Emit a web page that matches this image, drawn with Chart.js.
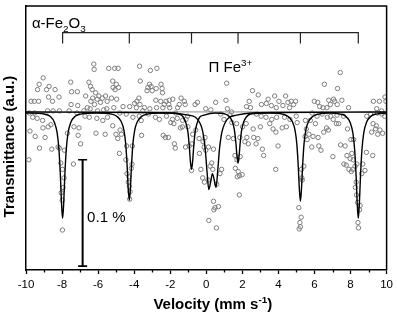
<!DOCTYPE html>
<html>
<head>
<meta charset="utf-8">
<script src="https://cdn.jsdelivr.net/npm/chart.js@4.4.0/dist/chart.umd.min.js"></script>
<style>
  html, body { margin: 0; padding: 0; background: #fff; }
  #wrap { width: 397px; height: 316px; }
</style>
</head>
<body>
<div id="wrap"><canvas id="spectrum" width="397" height="316"></canvas></div>
<script>
// measured spectrum: [velocity mm/s, transmission change %]
const spectrum = [
  [-6.24,0.045],[-6.22,0.040],[-5.41,0.041],[-5.08,0.041],[-9.05,0.032],[-7.52,0.028],[-6.51,0.028],[-9.27,0.026],
  [-8.72,0.024],[-9.36,0.021],[-8.86,0.021],[-8.39,0.021],[-6.42,0.024],[-6.33,0.021],[-7.47,0.019],[-7.15,0.019],
  [-5.19,0.029],[-5.17,0.023],[-5.06,0.021],[-6.14,0.018],[-5.96,0.015],[-5.77,0.013],[-5.59,0.015],[-6.69,0.015],
  [-6.30,0.013],[-6.05,0.012],[-8.75,0.014],[-8.17,0.014],[-9.72,0.010],[-9.54,0.010],[-9.30,0.010],[-8.53,0.010],
  [-7.50,0.007],[-7.13,0.006],[-5.87,0.009],[-5.50,0.010],[-5.26,0.013],[-6.40,0.010],[-6.20,0.007],[-5.13,0.004],
  [-8.80,0.001],[-8.50,0.001],[-8.15,0.001],[-7.61,0.001],[-7.17,-0.001],[-6.79,0.001],[-6.60,0.004],[-6.44,0.003],
  [-6.03,0.001],[-5.69,0.002],[-5.52,0.003],[-9.82,-0.001],[-9.52,-0.001],[-9.63,-0.005],[-9.38,-0.006],[-9.08,-0.008],
  [-6.07,-0.006],[-5.48,-0.005],[-5.74,-0.008],[-6.73,-0.004],[-6.49,-0.005],[-5.19,-0.013],[-9.06,-0.015],[-8.77,-0.014],
  [-8.62,-0.012],[-7.34,-0.014],[-7.06,-0.015],[-7.11,-0.022],[-7.70,-0.020],[-6.12,-0.020],[-5.61,-0.021],[-9.78,-0.018],
  [-9.49,-0.023],[-8.94,-0.024],[-6.97,-0.030],[-9.25,-0.034],[-8.57,-0.035],[-8.22,-0.033],[-9.84,-0.045],[-8.07,-0.048],
  [-7.37,-0.049],[-7.98,-0.054],[-7.89,-0.062],[-7.94,-0.071],[-8.05,-0.076],[-7.99,-0.083],[-7.98,-0.111],[-7.87,-0.036],
  [-8.15,-0.034],
  [-3.70,0.043],[-3.10,0.039],[-2.74,0.041],[-3.66,0.029],[-3.15,0.026],[-3.24,0.023],[-3.06,0.024],[-3.29,0.020],
  [-3.00,0.020],[-2.78,0.022],[-2.51,0.026],[-2.45,0.022],[-2.43,0.018],[-3.74,0.013],[-3.85,0.010],[-3.98,0.008],
  [-3.68,0.007],[-2.80,0.011],[-2.53,0.010],[-2.23,0.010],[-2.05,0.011],[-1.86,0.012],[-2.08,0.007],[-2.33,0.007],
  [-1.40,0.013],[-1.22,0.010],[-0.62,0.007],[-1.17,0.007],[-4.89,0.041],[-4.99,0.026],[-4.87,0.023],[-4.97,0.012],
  [-4.62,0.005],[-4.25,0.005],[-3.88,0.004],[-3.43,0.004],[-3.13,0.003],[-2.76,0.004],[-2.41,0.004],[-2.03,0.004],
  [-1.59,0.004],[-1.50,0.007],[-4.80,-0.001],[-4.44,-0.002],[-4.07,-0.005],[-3.72,-0.004],[-3.52,0.001],[-3.22,-0.002],
  [-2.82,-0.005],[-2.60,-0.007],[-2.21,-0.004],[-1.88,-0.007],[-1.61,-0.006],[-1.31,-0.008],[-1.13,-0.007],[-1.04,-0.004],
  [-3.61,-0.008],[-1.44,-0.015],[-1.02,-0.014],[-4.78,-0.017],[-5.01,-0.021],[-4.71,-0.021],[-4.91,-0.025],[-3.59,-0.022],
  [-2.39,-0.022],[-2.27,-0.024],[-2.10,-0.024],[-1.77,-0.030],[-1.72,-0.034],[-1.15,-0.033],[-0.95,-0.032],[-0.80,-0.030],
  [-0.76,-0.021],[-0.58,-0.017],[-0.40,-0.025],[-0.18,-0.028],[-0.07,-0.024],[-0.12,-0.033],[-0.03,-0.036],[-0.38,-0.039],
  [-4.42,-0.032],[-4.10,-0.032],[-4.82,-0.039],[-4.46,-0.045],[-4.12,-0.049],[-4.16,-0.053],[-4.40,-0.058],[-4.29,-0.061],
  [-0.82,-0.055],[-0.30,-0.054],[-0.20,-0.062],[-0.10,-0.066],[-4.25,-0.082],[-4.27,-0.070],[-4.23,-0.075],[-4.33,-0.066],
  [-1.70,-0.001],[-1.97,-0.010],[-1.80,-0.011],[-1.33,-0.014],
  [1.13,0.027],[2.56,0.020],[2.88,0.016],[1.09,0.011],[2.38,0.010],[2.23,0.005],[2.45,0.004],[3.43,0.012],
  [3.33,0.008],[3.79,0.015],[4.03,0.010],[4.40,0.015],[4.53,0.009],[4.71,0.010],[4.95,0.010],[3.06,0.007],
  [3.61,0.006],[3.88,0.004],[4.25,0.006],[4.62,0.004],[4.84,0.007],[1.17,0.003],[1.40,0.000],[1.31,-0.003],
  [2.78,-0.002],[3.04,-0.004],[3.31,-0.005],[3.63,-0.007],[3.90,-0.005],[4.34,-0.005],[4.64,-0.007],[4.99,-0.004],
  [0.98,-0.007],[1.42,-0.010],[1.68,-0.011],[2.21,-0.011],[2.01,-0.014],[2.60,-0.016],[3.00,-0.014],[3.52,-0.011],
  [3.70,-0.016],[3.86,-0.019],[4.21,-0.015],[4.44,-0.014],[1.22,-0.024],[1.50,-0.025],[1.86,-0.024],[2.25,-0.024],
  [2.63,-0.024],[2.86,-0.025],[2.14,-0.028],[2.33,-0.030],[2.76,-0.030],[3.11,-0.035],[3.18,-0.041],[3.98,-0.032],
  [0.12,-0.033],[0.40,-0.035],[1.59,-0.041],[1.88,-0.042],[1.70,-0.045],[0.30,-0.048],[0.21,-0.051],[0.36,-0.054],
  [0.85,-0.054],[0.76,-0.058],[1.61,-0.053],[1.77,-0.056],[1.84,-0.060],[1.99,-0.059],[1.72,-0.061],[3.85,-0.054],
  [0.58,-0.068],[0.10,-0.064],[1.83,-0.078],[0.40,-0.084],[0.48,-0.090],[0.67,-0.089],[0.42,-0.092],[0.14,-0.102],
  [0.56,-0.109],[-0.49,0.009],[-0.03,0.003],[0.52,0.009],[0.25,0.002],[0.80,-0.002],
  [7.43,0.037],[6.55,0.026],[7.28,0.022],[5.99,0.010],[6.18,0.009],[6.79,0.011],[7.06,0.012],[7.12,0.010],
  [7.52,0.011],[7.26,0.007],[6.88,0.007],[6.69,0.004],[6.47,0.004],[6.29,0.005],[7.89,0.004],[9.27,0.010],
  [9.60,0.010],[9.91,0.014],[9.96,0.010],[9.45,0.003],[9.72,0.001],[9.49,-0.001],[9.74,-0.002],[9.89,-0.004],
  [9.12,-0.002],[8.90,-0.004],[5.87,-0.001],[6.14,-0.004],[6.42,-0.002],[6.71,-0.005],[6.90,-0.004],[7.04,-0.007],
  [7.25,-0.003],[7.61,-0.004],[5.04,-0.010],[5.50,-0.008],[5.77,-0.008],[6.05,-0.011],[5.55,-0.016],[5.69,-0.021],
  [5.92,-0.023],[6.20,-0.024],[5.48,-0.023],[5.59,-0.026],[6.51,-0.019],[6.77,-0.017],[6.67,-0.015],[7.21,-0.011],
  [7.34,-0.011],[7.83,-0.016],[8.02,-0.026],[8.17,-0.026],[9.25,-0.011],[9.43,-0.013],[9.39,-0.016],[9.17,-0.019],
  [9.51,-0.021],[9.78,-0.020],[9.63,-0.017],[5.85,-0.033],[6.24,-0.032],[6.36,-0.036],[7.45,-0.031],[7.70,-0.032],
  [8.88,-0.038],[9.23,-0.041],[7.02,-0.042],[7.80,-0.041],[8.07,-0.039],[7.98,-0.044],[8.15,-0.045],[7.63,-0.049],
  [7.76,-0.050],[7.91,-0.054],[8.04,-0.056],[8.13,-0.054],[8.25,-0.051],[8.35,-0.049],[8.68,-0.049],[8.80,-0.055],
  [8.62,-0.058],[5.41,-0.051],[5.32,-0.064],[8.31,-0.066],[8.27,-0.071],[8.33,-0.078],[8.39,-0.085],[8.53,-0.088],
  [8.50,-0.092],[8.41,-0.104],[8.44,-0.109],[5.13,-0.090],[5.26,-0.099],[5.19,-0.104],[5.22,-0.108],[5.15,-0.110],
  [5.28,-0.054],[5.30,-0.062]
];

// sextet subspectrum (alpha-Fe2O3)
const sextetV = [-10,-9.0,-8.67,-8.42,-8.27,-8.17,-8.09,-8.03,-7.97,-7.91,-7.85,-7.77,-7.67,-7.52,-7.27,-6.97,-6.1,
  -5.27,-4.97,-4.72,-4.57,-4.47,-4.39,-4.33,-4.27,-4.21,-4.15,-4.07,-3.97,-3.82,-3.57,-3.27,-2.55,
  -1.82,-1.52,-1.27,-1.12,-1.02,-0.94,-0.88,-0.82,-0.76,-0.70,-0.62,-0.52,-0.37,-0.12,0.47,
  1.06,1.31,1.46,1.56,1.64,1.70,1.76,1.82,1.88,1.96,2.06,2.21,2.46,3.49,
  4.22,4.52,4.77,4.92,5.02,5.10,5.16,5.22,5.28,5.34,5.42,5.52,5.67,5.92,6.22,6.83,
  7.43,7.73,7.98,8.13,8.23,8.31,8.37,8.43,8.49,8.55,8.63,8.73,8.88,9.13,9.43,10];
const sextetT = [-0.001,-0.002,-0.004,-0.010,-0.020,-0.036,-0.061,-0.086,-0.100,-0.086,-0.061,-0.036,-0.020,-0.010,-0.004,-0.002,-0.001,
  -0.002,-0.004,-0.009,-0.017,-0.030,-0.051,-0.072,-0.083,-0.072,-0.051,-0.030,-0.017,-0.009,-0.004,-0.002,-0.001,
  -0.001,-0.002,-0.005,-0.011,-0.019,-0.033,-0.047,-0.054,-0.047,-0.033,-0.019,-0.011,-0.005,-0.003,-0.001,
  -0.002,-0.005,-0.010,-0.017,-0.029,-0.041,-0.048,-0.041,-0.029,-0.017,-0.010,-0.005,-0.002,-0.001,
  -0.002,-0.004,-0.009,-0.017,-0.030,-0.051,-0.072,-0.084,-0.072,-0.051,-0.030,-0.017,-0.009,-0.004,-0.002,-0.001,
  -0.002,-0.004,-0.010,-0.020,-0.036,-0.061,-0.086,-0.100,-0.086,-0.061,-0.036,-0.020,-0.010,-0.004,-0.002,-0.001];

// Fe3+ doublet subspectrum
const doubletV = [-10,-4,-2,-1.0,-0.6,-0.4,-0.25,-0.15,-0.05,0.04,0.14,0.24,0.34,0.44,0.54,0.64,0.73,0.83,0.93,1.08,1.28,1.68,2.5,4,10];
const doubletT = [0,-0.0005,-0.001,-0.003,-0.005,-0.009,-0.015,-0.023,-0.037,-0.056,-0.073,-0.066,-0.058,-0.064,-0.071,-0.054,-0.035,-0.022,-0.015,-0.009,-0.005,-0.003,-0.001,-0.0005,0];

// stick diagram of the six sextet lines
const sextetLines = [-7.97, -4.27, -0.82, 1.76, 5.22, 8.43];
const stickTop = 0.0745;
const stickBottom = 0.0644;

// 0.1 % scale bar
const scaleBarV = -6.86;
const scaleBarTop = -0.045;
const scaleBarBottom = -0.145;

const xTicks = [-10, -8, -6, -4, -2, 0, 2, 4, 6, 8, 10];
const yMin = -0.1486, yMax = 0.0995;

const FONT = '"Liberation Sans", Arial, Helvetica, sans-serif';
Chart.defaults.font.family = FONT;
Chart.defaults.color = '#000';

const toXY = (xs, ys) => xs.map((x, i) => ({ x: x, y: ys[i] }));

const sticks = [{ x: sextetLines[0], y: stickBottom }, { x: sextetLines[0], y: stickTop }];
sextetLines.slice(1).forEach(p => {
  sticks.push({ x: p, y: stickTop }, { x: p, y: stickBottom }, { x: p, y: stickTop });
});

function partsWidth(ctx, parts, size, weight) {
  let w = 0;
  parts.forEach(([txt, kind]) => {
    ctx.font = `${weight} ${kind ? size * 0.66 : size}px ${FONT}`;
    w += ctx.measureText(txt).width;
  });
  return w;
}

function drawParts(ctx, parts, x, y, size, weight) {
  parts.forEach(([txt, kind]) => {
    const s = kind ? size * 0.66 : size;
    ctx.font = `${weight} ${s}px ${FONT}`;
    const dy = kind === 'sub' ? size * 0.28 : kind === 'sup' ? -size * 0.42 : 0;
    ctx.fillText(txt, x, y + dy);
    x += ctx.measureText(txt).width;
  });
}

const decorations = {
  id: 'decorations',
  afterDraw(chart) {
    const { ctx, chartArea: a, scales: { x, y } } = chart;
    ctx.save();
    ctx.strokeStyle = '#000';
    ctx.fillStyle = '#000';

    // top and right frame
    ctx.lineWidth = 1.5;
    ctx.beginPath();
    ctx.moveTo(a.left, a.top);
    ctx.lineTo(a.right, a.top);
    ctx.lineTo(a.right, a.bottom);
    ctx.stroke();

    // minor ticks
    ctx.lineWidth = 1.3;
    for (let v = -9; v <= 9; v += 2) {
      const px = Math.round(x.getPixelForValue(v)) + 0.5;
      ctx.beginPath();
      ctx.moveTo(px, a.bottom);
      ctx.lineTo(px, a.bottom + 2.5);
      ctx.stroke();
    }

    ctx.textBaseline = 'alphabetic';
    ctx.textAlign = 'left';

    // phase labels
    drawParts(ctx, [['\u03b1-Fe', ''], ['2', 'sub'], ['O', ''], ['3', 'sub']],
      x.getPixelForValue(-9.67), y.getPixelForValue(0.079), 15, 'normal');
    drawParts(ctx, [['\u03a0 Fe', ''], ['3+', 'sup']],
      x.getPixelForValue(0.12), y.getPixelForValue(0.0375), 15, 'normal');

    // scale bar label
    ctx.font = `15px ${FONT}`;
    ctx.textBaseline = 'middle';
    ctx.fillText('0.1 %', x.getPixelForValue(-6.61), y.getPixelForValue(-0.0995));

    // axis titles
    ctx.textBaseline = 'alphabetic';
    const xt = [['Velocity (mm s', ''], ['-1', 'sup'], [')', '']];
    const xw = partsWidth(ctx, xt, 15, 'bold');
    drawParts(ctx, xt, (a.left + a.right) / 2 + 6.5 - xw / 2, a.bottom + 39, 15, 'bold');

    ctx.font = `bold 15px ${FONT}`;
    ctx.translate(a.left - 12.5, (a.top + a.bottom) / 2 + 8.5);
    ctx.rotate(-Math.PI / 2);
    ctx.textAlign = 'center';
    ctx.fillText('Transmittance (a.u.)', 0, 0);
    ctx.restore();
  }
};

new Chart(document.getElementById('spectrum'), {
  type: 'scatter',
  data: {
    datasets: [
      {
        data: toXY(sextetV, sextetT),
        showLine: true, borderColor: '#000', borderWidth: 1.4,
        pointRadius: 0, cubicInterpolationMode: 'monotone', order: 1
      },
      {
        data: toXY(doubletV, doubletT),
        showLine: true, borderColor: '#000', borderWidth: 1.4,
        pointRadius: 0, cubicInterpolationMode: 'monotone', order: 1
      },
      {
        data: [{ x: -10, y: 0 }, { x: 10, y: 0 }],
        showLine: true, borderColor: '#8c8c8c', borderWidth: 1,
        pointRadius: 0, order: 2
      },
      {
        data: sticks,
        showLine: true, borderColor: '#222', borderWidth: 1.2,
        pointRadius: 0, order: 1
      },
      {
        data: [{ x: scaleBarV, y: scaleBarTop }, { x: scaleBarV, y: scaleBarBottom }],
        showLine: true, borderColor: '#000', borderWidth: 2,
        pointStyle: 'line', pointRadius: 4.5, pointBorderWidth: 1.6,
        pointBorderColor: '#000', order: 0
      },
      {
        data: spectrum.map(p => ({ x: p[0], y: p[1] })),
        showLine: false, pointRadius: 2.2, pointBorderWidth: 1,
        pointBorderColor: '#7d7d7d', pointBackgroundColor: 'rgba(255,255,255,0)',
        order: 5
      }
    ]
  },
  options: {
    responsive: false,
    devicePixelRatio: 1,
    animation: false,
    layout: { padding: { left: 0, right: 8, top: 2, bottom: 0 } },
    plugins: { legend: { display: false }, tooltip: { enabled: false } },
    scales: {
      x: {
        type: 'linear', position: 'bottom', min: -10, max: 10,
        afterBuildTicks: s => { s.ticks = xTicks.map(v => ({ value: v })); },
        ticks: {
          color: '#000', font: { size: 11.5 }, padding: 4, maxRotation: 0, autoSkip: false,
          callback: v => String(v)
        },
        grid: { display: true, drawOnChartArea: false, drawTicks: true, tickLength: 4, tickColor: '#000', tickWidth: 1.3 },
        border: { display: true, color: '#000', width: 1.5 },
        afterFit: s => { s.height = 46; }
      },
      y: {
        type: 'linear', min: yMin, max: yMax,
        ticks: { display: false },
        grid: { display: false },
        border: { display: true, color: '#000', width: 1.5 },
        afterFit: s => { s.width = 26; }
      }
    }
  },
  plugins: [decorations]
});
</script>
</body>
</html>
